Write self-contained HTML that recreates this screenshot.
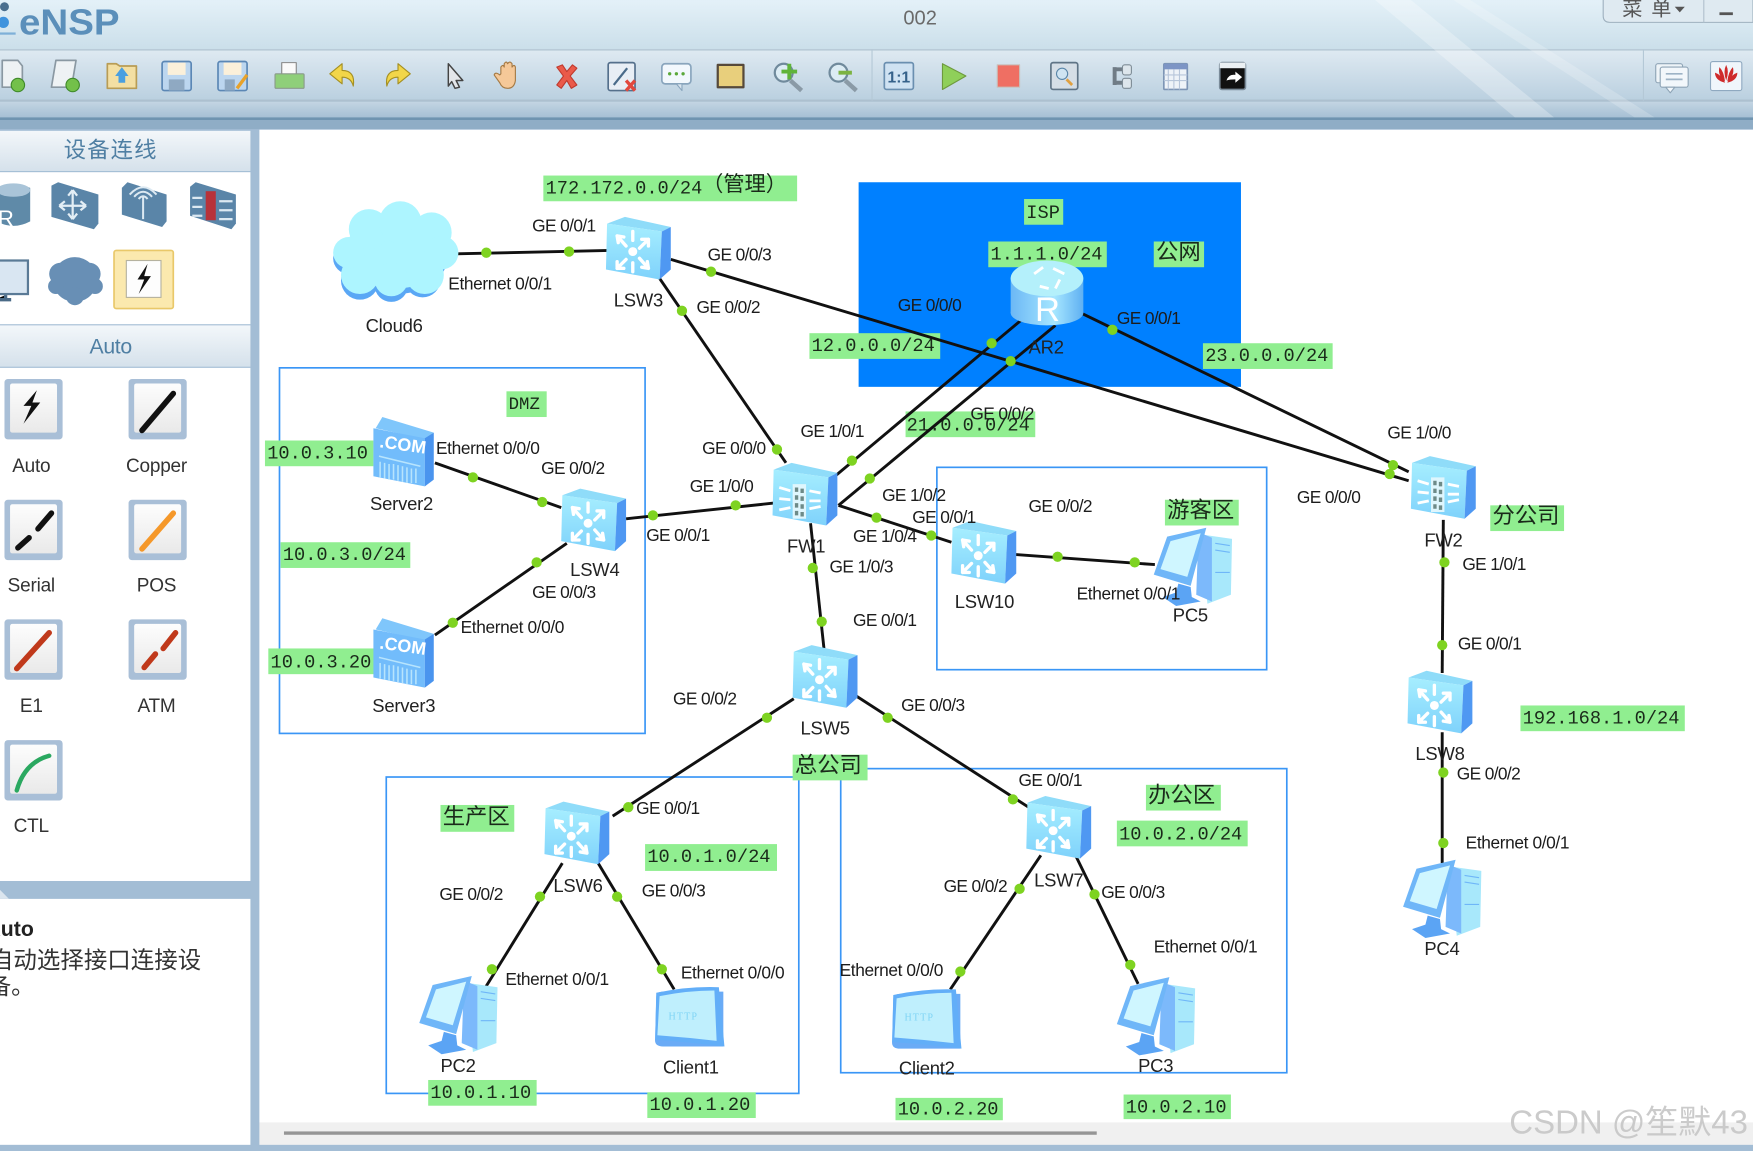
<!DOCTYPE html>
<html><head><meta charset="utf-8">
<style>
html,body{margin:0;padding:0;background:#fff;width:1753px;height:1151px;overflow:hidden}
svg{display:block}
.p{font-family:"Liberation Sans","Noto Sans CJK SC",sans-serif;font-size:15.5px;letter-spacing:-.55px;fill:#1c1c1c}
.e{font-family:"Liberation Sans","Noto Sans CJK SC",sans-serif;font-size:15.5px;letter-spacing:-.34px;fill:#1c1c1c}
.n{font-family:"Liberation Sans","Noto Sans CJK SC",sans-serif;font-size:16.5px;letter-spacing:-.2px;fill:#222}
.m{font-family:"Liberation Mono","Noto Sans CJK SC",monospace;font-size:16.7px;fill:#1a2a1a}
.c{font-family:"Noto Sans CJK SC","Liberation Sans",sans-serif;font-size:20px;fill:#1a2a1a}
.s{font-family:"Liberation Sans",sans-serif;font-size:17px;fill:#333;text-anchor:middle;letter-spacing:-.2px}
.l line{stroke:#111;stroke-width:2.6}
.d circle{fill:#7ed321;r:4.6px}
.g{fill:#90ee90}
.b{fill:none;stroke:#3a96f6;stroke-width:1.5}
</style></head><body>
<svg xmlns="http://www.w3.org/2000/svg" width="1753" height="1151" viewBox="0 0 1568 1029.5">
<defs>
<linearGradient id="tb" x1="0" y1="0" x2="0" y2="1"><stop offset="0" stop-color="#e4f1f8"/><stop offset="1" stop-color="#cbdfea"/></linearGradient>
<linearGradient id="tl" x1="0" y1="0" x2="0" y2="1"><stop offset="0" stop-color="#dfeaf2"/><stop offset="1" stop-color="#b9cfdf"/></linearGradient>
<linearGradient id="st" x1="0" y1="0" x2="0" y2="1"><stop offset="0" stop-color="#c3d5e3"/><stop offset="1" stop-color="#a6c0d4"/></linearGradient>
<linearGradient id="hd" x1="0" y1="0" x2="0" y2="1"><stop offset="0" stop-color="#f3f7fa"/><stop offset="1" stop-color="#d5e1eb"/></linearGradient>
<linearGradient id="fr" x1="0" y1="0" x2="0" y2="1"><stop offset="0" stop-color="#a6eeff"/><stop offset="1" stop-color="#7fd2fb"/></linearGradient>
<linearGradient id="cy" x1="0" y1="0" x2="1" y2="0"><stop offset="0" stop-color="#6cb8f5"/><stop offset=".6" stop-color="#a6e6ff"/><stop offset="1" stop-color="#5fb0f2"/></linearGradient>
<linearGradient id="tileg" x1="0" y1="0" x2="0" y2="1"><stop offset="0" stop-color="#fdfdfd"/><stop offset="1" stop-color="#e9e9e9"/></linearGradient>
<g id="star" fill="none" stroke="#fff" stroke-width="3" stroke-linecap="round">
<circle cx="24" cy="31" r="4" fill="#fff" stroke="none"/>
<path d="M10 17l8 9M10 17l1 6M10 17l6 1M38 20l-8 8M38 20l-6 0M38 20l0 6M10 46l8-8M10 46l0-6M10 46l6 0M38 46l-8-9M38 46l-1-6M38 46l-6-1M24 13v8M24 41v8"/>
</g>
<g id="sw">
<polygon points="1,6 17,0 58,9 50,13" fill="#8fdcf9"/>
<polygon points="1,6 50,13 48,56 0,47" fill="url(#fr)"/>
<polygon points="50,13 58,9 58,47 48,56" fill="#4f98f2"/>
<use href="#star"/>
</g>
<g id="fw">
<polygon points="1,6 17,0 58,9 50,13" fill="#8fdcf9"/>
<polygon points="1,6 50,13 48,56 0,47" fill="url(#fr)"/>
<polygon points="50,13 58,9 58,47 48,56" fill="#4f98f2"/>
<path d="M6 22l10 3M6 32l10 1M6 42l10-2M33 25l10 2M33 34l10 0M33 41l10-2" stroke="#fff" stroke-width="2.5" fill="none"/>
<path d="M18 19h12v31h-12z" fill="#dff6fd"/>
<path d="M20 22h3v4h-3zM25 23h3v4h-3zM20 29h3v4h-3zM25 30h3v4h-3zM20 36h3v4h-3zM25 37h3v4h-3zM20 43h3v4h-3zM25 44h3v4h-3z" fill="#6d8a88"/>
</g>
<g id="pc">
<polygon points="42,6 70,10 69,60 48,68" fill="#a8e8fb"/>
<polygon points="40,4 52,9 52,66 38,60" fill="#7cb9fb"/>
<path d="M55 14l13 2M55 20l13 2M55 40l13 0" stroke="#6fb6f8" stroke-width="1"/>
<polygon points="22,50 33,53 34,62 42,66 20,70 8,62 20,58" fill="#5ba4f4"/>
<polygon points="12,8 47,0 33,52 0,42" fill="#6fb6f8"/>
<polygon points="15,12 42,5 30,44 6,37" fill="#cff6ff"/>
</g>
<g id="cl">
<path d="M2 10Q2 5 8 5H62V54H8Q0 54 1 47Z" fill="#6aabf6"/>
<path d="M2 6Q30 0 58 1L63 54Q30 50 1 48Z" fill="#62aef8"/>
<path d="M5 9Q30 4 54 4L56 49Q30 46 3 44Z" fill="#bfeffd"/>
</g>
<g id="srv">
<polygon points="2,10 8,0 54,14 46,20" fill="#7fc6fb"/>
<polygon points="0,10 46,19 46,62 0,53" fill="#72bcfb"/>
<polygon points="46,19 54,14 54,56 46,62" fill="#4a94ee"/>
<path d="M5 35l37 9M6 40v14M10 41v14M14 42v14M18 42v14M22 43v14M26 44v14M30 45v14M34 46v13M38 46v13" stroke="#b7e4fd" stroke-width="1.4" fill="none"/>
</g>
<g id="tile">
<rect x="0" y="0" width="52" height="54" rx="3" fill="#a9bfd7"/>
<rect x="5" y="4" width="42" height="44" rx="2" fill="url(#tileg)"/>
</g>
</defs>

<rect width="1568" height="1030" fill="#a3bdd5"/>
<rect width="1568" height="44" fill="url(#tb)"/>
<rect y="44" width="1568" height="47" fill="url(#tl)"/>
<rect y="44" width="1568" height="1.2" fill="#b4c6d3"/>
<rect y="89" width="1568" height="2" fill="#adc0cf"/>
<rect y="91" width="1568" height="14" fill="url(#st)"/>
<rect y="105" width="1568" height="2.5" fill="#6f94b0"/>
<rect y="107.5" width="1568" height="8" fill="#8fadc6"/>
<polygon points="1230,0 1262,0 1390,105 1355,105" fill="#fff" opacity=".28"/>
<polygon points="1300,0 1315,0 1480,105 1462,105" fill="#fff" opacity=".2"/>
<line x1="780" y1="44" x2="780" y2="90" stroke="#b4c8d6"/>
<line x1="1470" y1="44" x2="1470" y2="90" stroke="#b4c8d6"/>

<!-- title -->
<text x="17" y="31" style="font-family:'Liberation Sans',sans-serif;font-weight:bold;font-size:32px;fill:#5b8fba" textLength="90" lengthAdjust="spacingAndGlyphs">eNSP</text>
<circle cx="4" cy="6" r="4" fill="#4a6f8e"/><circle cx="3" cy="20" r="5" fill="#3f93dd"/><path d="M0 30h14" stroke="#7eb0d8" stroke-width="2"/>
<text x="808" y="22" style="font-family:'Liberation Sans',sans-serif;font-size:18px;fill:#6a6a6a">002</text>
<path d="M1434-2V14q0 6 6 6H1568V-2" fill="#dfeaf1" stroke="#9fb1bf"/>
<line x1="1524" y1="0" x2="1524" y2="20" stroke="#b0c0cc"/>
<text x="1451" y="14" style="font-family:'Noto Sans CJK SC',sans-serif;font-size:18px;letter-spacing:8px;fill:#555">菜单</text>
<path d="M1498 6h9l-4.500 5z" fill="#555"/>
<rect x="1538" y="11" width="12" height="2.500" fill="#555"/>

<!-- toolbar icons -->
<g stroke-linejoin="round">
<path d="M2 54h14l4 5v19H2z" fill="#eef2f4" stroke="#8a98a2" stroke-width="1.500"/><circle cx="16" cy="76" r="6" fill="#73c04a" stroke="#3f8a2a"/>
<path d="M50 54h18l-4 24H46z" fill="#eef2f4" stroke="#8a98a2" stroke-width="1.500"/><circle cx="65" cy="76" r="6" fill="#73c04a" stroke="#3f8a2a"/>
<path d="M96 57h8l3 2h15v20H96z" fill="#f3dfa3" stroke="#b89c55" stroke-width="1.500"/><path d="M109 60l6 8h-3v6h-6v-6h-3z" fill="#4a9fe0"/>
<rect x="145" y="55" width="26" height="26" rx="2" fill="#bcd6ef" stroke="#5b87b5" stroke-width="1.500"/><rect x="150" y="56" width="16" height="11" fill="#fbf0da"/><rect x="151" y="71" width="14" height="10" fill="#8fa9c2"/>
<rect x="195" y="55" width="26" height="26" rx="2" fill="#bcd6ef" stroke="#5b87b5" stroke-width="1.500"/><rect x="200" y="56" width="16" height="11" fill="#fbf0da"/><rect x="201" y="71" width="9" height="10" fill="#8fa9c2"/><path d="M212 79l9-12" stroke="#e8a22a" stroke-width="3"/>
<path d="M252 56h13v12h-13z" fill="#fafafa" stroke="#888"/><rect x="246" y="66" width="26" height="13" rx="1" fill="#8fcf7a" stroke="#8a9a8a"/>
<path d="M316 77q2-14-10-14v-6l-11 9 11 9v-6q8 0 10 8z" fill="#f2d649" stroke="#a48f22"/>
<path d="M346 77q-2-14 10-14v-6l11 9-11 9v-6q-8 0-10 8z" fill="#f2d649" stroke="#a48f22"/>
<path d="M401 57l13 15-6 0 3 6-4 1-3-6-3 4z" fill="#e3e6ea" stroke="#444" stroke-width="1.300"/>
<path d="M448 66v-6q2-3 3 0v-3q2-3 3 0 2-3 4 0v3q2-3 3 0v12q-1 7-7 7-5 0-7-5l-5-7q1-3 5 0z" fill="#f5c898" stroke="#a57a45"/>
<path d="M498 60l5-2 4 6 5-6 4 3-6 7 6 8-5 3-4-7-5 7-4-3 6-8z" fill="#ea5a4a" stroke="#c03a2e"/>
<rect x="544" y="56" width="24" height="25" rx="2" fill="#e8eef5" stroke="#55708c" stroke-width="1.500"/><path d="M549 76l12-15" stroke="#4a6b8a" stroke-width="2"/><path d="M560 72l8 9M568 72l-8 9" stroke="#e2483d" stroke-width="3"/>
<rect x="592" y="57" width="26" height="18" rx="3" fill="#f2f8fd" stroke="#89a5bd" stroke-width="1.500"/><path d="M605 75l5 6v-6z" fill="#dbe6ef" stroke="#89a5bd"/><circle cx="599" cy="66" r="1.500" fill="#5aa83a"/><circle cx="605" cy="66" r="1.500" fill="#5aa83a"/><circle cx="611" cy="66" r="1.500" fill="#5aa83a"/>
<rect x="642" y="58" width="23" height="20" fill="#e8cf7c" stroke="#56493a" stroke-width="2"/>
<circle cx="701" cy="65" r="8" fill="#dcecf4" stroke="#708a9c" stroke-width="2"/><path d="M707 72l10 9" stroke="#8a9aa6" stroke-width="4"/><path d="M706 57v14M699 64h14" stroke="#5fb43a" stroke-width="3.500"/>
<circle cx="750" cy="65" r="8" fill="#dcecf4" stroke="#708a9c" stroke-width="2"/><path d="M756 72l10 9" stroke="#8a9aa6" stroke-width="4"/><path d="M750 65h12" stroke="#7cb342" stroke-width="3.500"/>
<rect x="791" y="56" width="26" height="24" rx="2" fill="#cfe2f2" stroke="#6a8fb0" stroke-width="1.500"/><text x="804" y="74" text-anchor="middle" style="font-family:'Liberation Sans',sans-serif;font-size:14px;font-weight:bold;fill:#35618a">1:1</text>
<path d="M843 57l21 11-21 12z" fill="#8fcf5a" stroke="#6e9a3e"/>
<rect x="892" y="58" width="20" height="20" fill="#ef6f63" stroke="#c9c0bb"/>
<rect x="940" y="56" width="24" height="24" rx="2" fill="#d5dee6" stroke="#5f7486" stroke-width="1.500"/><circle cx="950" cy="66" r="5" fill="#cfe4f2" stroke="#5a86a8"/><path d="M954 71l5 5" stroke="#e0a040" stroke-width="2.500"/>
<path d="M997 60v16M997 62h8M997 74h8" stroke="#707c86" stroke-width="3.500" fill="none"/><rect x="1004" y="58" width="8" height="9" rx="2" fill="#dde6ec" stroke="#7e8c96"/><rect x="1004" y="70" width="8" height="9" rx="2" fill="#dde6ec" stroke="#7e8c96"/>
<rect x="1041" y="57" width="21" height="23" rx="1" fill="#eef3f8" stroke="#7d95b5" stroke-width="1.500"/><rect x="1041" y="57" width="21" height="5" fill="#7d95c5"/><path d="M1045 62v18M1050 62v18M1055 62v18M1041 67h21M1041 72h21" stroke="#b7c6da"/>
<rect x="1091" y="56" width="23" height="24" rx="2" fill="#111" stroke="#7a8b99" stroke-width="1.500"/><rect x="1091" y="56" width="23" height="5" fill="#ebf0f3"/><path d="M1097 72q2-6 8-5v-3l6 5-6 5v-3q-5 0-8 1z" fill="#fff"/>
<rect x="1481" y="57" width="24" height="17" rx="2" fill="#eef4f8" stroke="#8ea4b6"/><rect x="1485" y="60" width="25" height="18" rx="2" fill="#f2f7fb" stroke="#8ea4b6"/><path d="M1490 78l4 5 4-5z" fill="#f2f7fb" stroke="#8ea4b6"/><path d="M1490 66h15M1490 71h15" stroke="#9db3c6" stroke-width="1.500"/>
<rect x="1530" y="55" width="28" height="26" rx="2" fill="#f0f6fb" stroke="#8fa9c0"/><path d="M1544 58q-3 6 0 14 3-8 0-14zM1538 60q-2 7 5 13-1-9-5-13zM1550 60q2 7-5 13 1-9 5-13zM1534 65q0 7 9 9-3-7-9-9zM1554 65q0 7-9 9 3-7 9-9z" fill="#cf2b2b"/>
</g>

<!-- sidebar -->
<rect x="0" y="117" width="224" height="36" fill="url(#hd)"/>
<rect x="0" y="154" width="224" height="136" fill="#fff"/>
<rect x="0" y="291" width="224" height="37" fill="url(#hd)"/>
<rect x="0" y="329" width="224" height="459" fill="#fff"/>
<rect x="0" y="804" width="224" height="220" fill="#fff"/>
<polygon points="0,788 0,796 8,804 0,804" fill="#dbe5ee"/>
<text x="99" y="141" text-anchor="middle" style="font-family:'Noto Sans CJK SC',sans-serif;font-size:20px;letter-spacing:1px;fill:#4f7fa3">设备连线</text>
<text x="99" y="316" text-anchor="middle" style="font-family:'Liberation Sans',sans-serif;font-size:19px;letter-spacing:-.3px;fill:#4f7fa3">Auto</text>

<!-- top palette -->
<path d="M-3 168q15-6 30 0v30q-15 8-30 0z" fill="#5f8aa8"/><ellipse cx="12" cy="170" rx="15" ry="6" fill="#a9c4d8"/><text x="-2" y="202" style="font-family:'Liberation Sans',sans-serif;font-size:20px;fill:#fff">R</text>
<polygon points="46,166 52,163 88,174 88,200 84,205 46,194" fill="#5a85a8"/><path d="M65 170v26M65 170l-4 5M65 170l4 5M65 196l-4-5M65 196l4-5M53 184h24M53 184l5-4M53 184l5 4M77 184l-5-4M77 184l-5 4" stroke="#e3eef5" stroke-width="2" fill="none"/>
<polygon points="109,168 114,163 149,174 149,198 145,203 109,192" fill="#5a85a8"/><path d="M128 176v20M124 178q4-5 8 0M120 176q8-9 16 0M116 174q12-13 24 0" stroke="#dce9f2" stroke-width="1.800" fill="none"/>
<polygon points="170,167 175,163 211,174 211,200 207,205 170,193" fill="#5a85a8"/><rect x="184" y="171" width="9" height="26" fill="#b8323a"/><path d="M172 177h9M172 185h9M172 193h9M196 180h12M196 188h12M196 196h12" stroke="#dce9f2" stroke-width="2"/>
<rect x="-5" y="233" width="30" height="30" fill="#d9e6f2" stroke="#5a7a96" stroke-width="2"/><path d="M5 264v4h-10M-4 268h14" stroke="#4a6a86" stroke-width="3"/>
<g fill="#688fb5"><circle cx="67" cy="250" r="20"/><circle cx="54" cy="245" r="10"/><circle cx="80" cy="245" r="10"/><circle cx="50" cy="256" r="7"/><circle cx="85" cy="256" r="7"/><circle cx="67" cy="265" r="8"/></g>
<rect x="102" y="224" width="53" height="52" rx="2" fill="#fbe9ae" stroke="#e9c869" stroke-width="1.500"/>
<rect x="113" y="233" width="31" height="33" fill="#fdfdfd" stroke="#b5b29f"/>
<path d="M132 236l-9 14h6l-5 13 11-16h-6z" fill="#111"/>

<!-- connectors -->
<use href="#tile" x="4" y="339"/><path d="M33 349l-12 14h7l-7 16 15-19h-7z" fill="#111"/>
<use href="#tile" x="115" y="339"/><line x1="155" y1="352" x2="127" y2="385" stroke="#111" stroke-width="5" stroke-linecap="round"/>
<use href="#tile" x="4" y="447"/><path d="M46 459l-12 14M26 481l-10 9" stroke="#111" stroke-width="5" stroke-linecap="round"/>
<use href="#tile" x="115" y="447"/><line x1="155" y1="459" x2="127" y2="491" stroke="#f5982a" stroke-width="5" stroke-linecap="round"/>
<use href="#tile" x="4" y="554"/><line x1="44" y1="566" x2="15" y2="598" stroke="#c0391b" stroke-width="5" stroke-linecap="round"/>
<use href="#tile" x="115" y="554"/><path d="M157 566l-11 14M139 585l-10 12" stroke="#c0391b" stroke-width="5" stroke-linecap="round"/>
<use href="#tile" x="4" y="662"/><path d="M44 676q-22 6-29 31" stroke="#2aa860" stroke-width="4" fill="none" stroke-linecap="round"/>
<text class="s" x="28" y="422">Auto</text><text class="s" x="140" y="422">Copper</text>
<text class="s" x="28" y="529">Serial</text><text class="s" x="140" y="529">POS</text>
<text class="s" x="28" y="637">E1</text><text class="s" x="140" y="637">ATM</text>
<text class="s" x="28" y="744">CTL</text>
<text x="-13" y="837" style="font-family:'Liberation Sans',sans-serif;font-weight:bold;font-size:19px;fill:#222">Auto</text>
<text x="-9" y="866" style="font-family:'Noto Sans CJK SC',sans-serif;font-size:21px;fill:#333">自动选择接口连接设</text>
<text x="-11" y="889" style="font-family:'Noto Sans CJK SC',sans-serif;font-size:21px;fill:#333">备。</text>

<!-- canvas -->
<rect x="232" y="116" width="1336" height="888" fill="#fff"/>
<rect x="232" y="1004" width="1336" height="20" fill="#f0f0f0"/>
<rect x="254" y="1012" width="727" height="3" fill="#959595"/>

<!-- groups -->
<rect x="768" y="163" width="342" height="183" fill="#0080ff"/>
<rect class="b" x="250" y="329" width="327" height="327"/>
<rect class="b" x="345.500" y="695" width="369" height="283"/>
<rect class="b" x="752" y="687.500" width="399" height="272"/>
<rect class="b" x="838" y="418" width="295" height="181"/>

<!-- green labels -->
<rect class="g" x="486" y="157" width="227" height="23"/><text class="m" x="488" y="173">172.172.0.0/24</text><text class="c" x="628" y="171" style="font-size:19px">（管理）</text>
<rect class="g" x="916" y="178" width="35" height="23"/><text class="m" x="918" y="195">ISP</text>
<rect class="g" x="884" y="216" width="106" height="23"/><text class="m" x="886" y="232">1.1.1.0/24</text>
<rect class="g" x="1032" y="216" width="45" height="23"/><text class="c" x="1034" y="232">公网</text>
<rect class="g" x="724" y="298" width="117" height="23"/><text class="m" x="726" y="314">12.0.0.0/24</text>
<rect class="g" x="1076" y="307" width="116" height="23"/><text class="m" x="1078" y="323">23.0.0.0/24</text>
<rect class="g" x="810" y="368" width="116" height="23"/><text class="m" x="811" y="385">21.0.0.0/24</text>
<rect class="g" x="453" y="350" width="36" height="23"/><text class="m" x="455" y="366" style="font-size:15.500px">DMZ</text>
<rect class="g" x="237" y="394" width="97" height="23"/><text class="m" x="239" y="410">10.0.3.10</text>
<rect class="g" x="251" y="485" width="116" height="23"/><text class="m" x="253" y="501">10.0.3.0/24</text>
<rect class="g" x="240" y="580" width="96" height="23"/><text class="m" x="242" y="597">10.0.3.20</text>
<rect class="g" x="1042" y="447" width="66" height="23"/><text class="c" x="1044" y="463">游客区</text>
<rect class="g" x="1333" y="452" width="66" height="23"/><text class="c" x="1335" y="468">分公司</text>
<rect class="g" x="1360" y="631" width="147" height="23"/><text class="m" x="1362" y="647">192.168.1.0/24</text>
<rect class="g" x="1025" y="702" width="67" height="23"/><text class="c" x="1027" y="718">办公区</text>
<rect class="g" x="999" y="734" width="117" height="23"/><text class="m" x="1001" y="751">10.0.2.0/24</text>
<rect class="g" x="709" y="675" width="67" height="23"/><text class="c" x="711" y="691">总公司</text>
<rect class="g" x="394" y="720" width="66" height="24"/><text class="c" x="396" y="737">生产区</text>
<rect class="g" x="577" y="755" width="118" height="24"/><text class="m" x="579" y="771">10.0.1.0/24</text>
<rect class="g" x="383" y="966" width="97" height="23"/><text class="m" x="385" y="982">10.0.1.10</text>
<rect class="g" x="579" y="977" width="97" height="23"/><text class="m" x="581" y="993">10.0.1.20</text>
<rect class="g" x="801" y="982" width="96" height="20"/><text class="m" x="803" y="997">10.0.2.20</text>
<rect class="g" x="1005" y="979" width="96" height="22"/><text class="m" x="1007" y="995">10.0.2.10</text>

<!-- links -->
<g class="l">
<line x1="408" y1="227" x2="545" y2="224"/>
<line x1="600" y1="232" x2="1260" y2="430"/>
<line x1="590" y1="249" x2="703" y2="414"/>
<line x1="915" y1="285" x2="748" y2="425"/>
<line x1="944" y1="291" x2="750" y2="452"/>
<line x1="967" y1="280" x2="1260" y2="422"/>
<line x1="560" y1="464" x2="692" y2="450"/>
<line x1="389" y1="414" x2="502" y2="454"/>
<line x1="389" y1="568" x2="507" y2="486"/>
<line x1="750" y1="452" x2="851" y2="485"/>
<line x1="908" y1="496" x2="1033" y2="505"/>
<line x1="725" y1="468" x2="737" y2="580"/>
<line x1="710" y1="625" x2="548" y2="730"/>
<line x1="765" y1="622" x2="920" y2="722"/>
<line x1="503" y1="772" x2="430" y2="890"/>
<line x1="535" y1="772" x2="603" y2="885"/>
<line x1="931" y1="765" x2="850" y2="885"/>
<line x1="962" y1="765" x2="1018" y2="880"/>
<line x1="1291" y1="465" x2="1290" y2="602"/>
<line x1="1290" y1="655" x2="1290" y2="772"/>
</g>

<!-- devices -->
<g fill="#5aa7f5"><ellipse cx="354" cy="231" rx="46" ry="32"/><circle cx="312" cy="231" r="14"/><circle cx="322" cy="251" r="17"/><circle cx="350" cy="255" r="15"/><circle cx="378" cy="250" r="16"/></g>
<g fill="#adf5ff"><ellipse cx="354" cy="226" rx="46" ry="32"/><circle cx="330" cy="205" r="18"/><circle cx="358" cy="199" r="19"/><circle cx="386" cy="208" r="18"/><circle cx="395" cy="226" r="15"/><circle cx="380" cy="246" r="17"/><circle cx="350" cy="250" r="15"/><circle cx="322" cy="246" r="17"/><circle cx="312" cy="226" r="14"/></g>

<use href="#sw" x="542" y="194"/>
<use href="#sw" x="502" y="437"/>
<use href="#sw" x="709" y="577"/>
<use href="#sw" x="487" y="717"/>
<use href="#sw" x="918" y="712"/>
<use href="#sw" x="1259" y="600"/>
<use href="#sw" x="851" y="466"/>
<use href="#fw" x="691" y="414"/>
<use href="#fw" x="1262" y="408"/>

<rect x="904" y="248" width="65" height="32" fill="url(#cy)"/>
<ellipse cx="936.500" cy="280" rx="32.500" ry="11" fill="url(#cy)"/>
<ellipse cx="936.500" cy="249" rx="32.500" ry="16" fill="#b4f0fb"/>
<path d="M925 245l8-6M942 240l10 5M930 256l8 2M948 250l-4 8" stroke="#fff" stroke-width="2.500"/>
<text x="937" y="287" text-anchor="middle" style="font-family:'Liberation Sans',sans-serif;font-size:31px;fill:#fff">R</text>

<use href="#srv" x="334" y="373"/><text x="339" y="400" transform="rotate(8 339 400)" style="font-family:'Liberation Sans',sans-serif;font-weight:bold;font-size:16px;fill:#fff">.COM</text>
<use href="#srv" x="334" y="553"/><text x="339" y="580" transform="rotate(8 339 580)" style="font-family:'Liberation Sans',sans-serif;font-weight:bold;font-size:16px;fill:#fff">.COM</text>

<use href="#pc" x="375" y="873"/>
<use href="#pc" x="1032" y="472"/>
<use href="#pc" x="1255" y="769"/>
<use href="#pc" x="999" y="874"/>
<use href="#cl" x="585" y="882"/><text x="598" y="912" style="font-family:'Liberation Serif',serif;font-size:9px;fill:#7fd4f5;letter-spacing:1px">HTTP</text>
<use href="#cl" x="797" y="884"/><text x="809" y="913" style="font-family:'Liberation Serif',serif;font-size:9px;fill:#7fd4f5;letter-spacing:1px">HTTP</text>

<!-- dots -->
<g class="d">
<circle cx="435" cy="226"/><circle cx="509" cy="225"/><circle cx="636" cy="243"/><circle cx="610" cy="278"/><circle cx="887" cy="307"/><circle cx="904" cy="323"/><circle cx="995" cy="295"/><circle cx="695" cy="402"/><circle cx="762" cy="412"/><circle cx="778" cy="428"/><circle cx="584" cy="461"/><circle cx="658" cy="452"/><circle cx="423" cy="427"/><circle cx="485" cy="449"/><circle cx="480" cy="503"/><circle cx="405" cy="557"/><circle cx="784" cy="463"/><circle cx="833" cy="479"/><circle cx="946" cy="498"/><circle cx="1015" cy="503"/><circle cx="727" cy="508"/><circle cx="735" cy="556"/><circle cx="686" cy="642"/><circle cx="562" cy="722"/><circle cx="794" cy="642"/><circle cx="906" cy="715"/><circle cx="483" cy="802"/><circle cx="440" cy="867"/><circle cx="552" cy="802"/><circle cx="592" cy="867"/><circle cx="912" cy="795"/><circle cx="859" cy="869"/><circle cx="979" cy="800"/><circle cx="1011" cy="863"/><circle cx="1246" cy="416"/><circle cx="1243" cy="424"/><circle cx="1292" cy="503"/><circle cx="1290" cy="577"/><circle cx="1291" cy="691"/><circle cx="1291" cy="754"/>
</g>

<!-- port labels -->
<text class="p" x="476" y="207">GE 0/0/1</text>
<text class="p" x="633" y="233">GE 0/0/3</text>
<text class="e" x="401" y="259">Ethernet 0/0/1</text>
<text class="p" x="623" y="280">GE 0/0/2</text>
<text class="p" x="803" y="278">GE 0/0/0</text>
<text class="p" x="999" y="290">GE 0/0/1</text>
<text class="p" x="628" y="406">GE 0/0/0</text>
<text class="p" x="716" y="391">GE 1/0/1</text>
<text class="p" x="868" y="375">GE 0/0/2</text>
<text class="e" x="390" y="406">Ethernet 0/0/0</text>
<text class="p" x="484" y="424">GE 0/0/2</text>
<text class="p" x="617" y="440">GE 1/0/0</text>
<text class="p" x="789" y="448">GE 1/0/2</text>
<text class="p" x="816" y="468">GE 0/0/1</text>
<text class="p" x="920" y="458">GE 0/0/2</text>
<text class="p" x="1241" y="392">GE 1/0/0</text>
<text class="p" x="1160" y="450">GE 0/0/0</text>
<text class="p" x="763" y="485">GE 1/0/4</text>
<text class="p" x="578" y="484">GE 0/0/1</text>
<text class="p" x="742" y="512">GE 1/0/3</text>
<text class="p" x="476" y="535">GE 0/0/3</text>
<text class="e" x="963" y="536">Ethernet 0/0/1</text>
<text class="p" x="1308" y="510">GE 1/0/1</text>
<text class="p" x="763" y="560">GE 0/0/1</text>
<text class="e" x="412" y="566">Ethernet 0/0/0</text>
<text class="p" x="1304" y="581">GE 0/0/1</text>
<text class="p" x="602" y="630">GE 0/0/2</text>
<text class="p" x="806" y="636">GE 0/0/3</text>
<text class="p" x="1303" y="697">GE 0/0/2</text>
<text class="p" x="911" y="703">GE 0/0/1</text>
<text class="p" x="569" y="728">GE 0/0/1</text>
<text class="e" x="1311" y="759">Ethernet 0/0/1</text>
<text class="p" x="393" y="805">GE 0/0/2</text>
<text class="p" x="574" y="802">GE 0/0/3</text>
<text class="p" x="844" y="798">GE 0/0/2</text>
<text class="p" x="985" y="803">GE 0/0/3</text>
<text class="e" x="1032" y="852">Ethernet 0/0/1</text>
<text class="e" x="452" y="881">Ethernet 0/0/1</text>
<text class="e" x="609" y="875">Ethernet 0/0/0</text>
<text class="e" x="751" y="873">Ethernet 0/0/0</text>

<!-- node names -->
<text class="n" x="549" y="274">LSW3</text>
<text class="n" x="327" y="297">Cloud6</text>
<text class="n" x="920" y="316">AR2</text>
<text class="n" x="510" y="515">LSW4</text>
<text class="n" x="704" y="494">FW1</text>
<text class="n" x="331" y="456">Server2</text>
<text class="n" x="1049" y="556">PC5</text>
<text class="n" x="854" y="544">LSW10</text>
<text class="n" x="1274" y="489">FW2</text>
<text class="n" x="333" y="637">Server3</text>
<text class="n" x="716" y="657">LSW5</text>
<text class="n" x="1266" y="680">LSW8</text>
<text class="n" x="495" y="798">LSW6</text>
<text class="n" x="925" y="793">LSW7</text>
<text class="n" x="1274" y="854">PC4</text>
<text class="n" x="394" y="959">PC2</text>
<text class="n" x="593" y="960">Client1</text>
<text class="n" x="804" y="961">Client2</text>
<text class="n" x="1018" y="959">PC3</text>

<text x="1350" y="1014" style="font-family:'Liberation Sans','Noto Sans CJK SC',sans-serif;font-size:29.5px;fill:#c6c6c6;opacity:.9">CSDN @笙默43</text>
</svg>
</body></html>
